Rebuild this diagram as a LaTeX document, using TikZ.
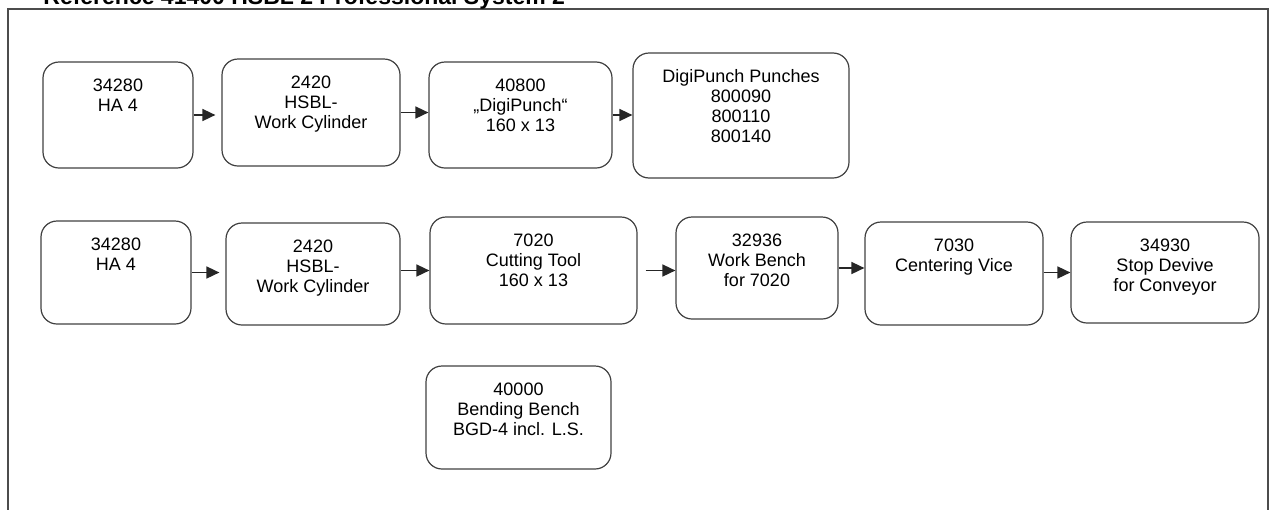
\documentclass[tikz,border=0pt]{standalone}
\usepackage{fontspec}
\setmainfont{Liberation Sans}
\usetikzlibrary{arrows.meta}

\definecolor{edgegray}{gray}{0.25}
\tikzset{
  unit/.style={draw=edgegray, line width=0.6pt, rounded corners=8pt, inner sep=0pt},
  unittext/.style={anchor=north, inner sep=0pt, yshift=-8.5pt, align=center,
    font=\fontsize{9}{10}\selectfont},
  flow/.style={-{Triangle[length=6.5pt,width=6pt]}, line width=0.8pt, black!85},
}

\begin{document}
\begin{tikzpicture}[x=0.5pt,y=-0.5pt]
          \useasboundingbox (0,0) rectangle (1272,509);
          % frame and title
          \draw[line width=1pt,black!70] (8,530) -- (8,9) -- (1268,9) -- (1268,530);
          \node[anchor=base west,inner sep=0pt,font=\fontsize{11.5}{14}\selectfont\bfseries] (title) at (43,4) {Reference 41400 HSBL 2 Professional System 2};
          % first line
          \node[unit,minimum width=75pt,minimum height=53pt,label={[unittext]north:34280\\HA 4}] (ha1) at (118,115) {};
          \node[unit,minimum width=89pt,minimum height=53.5pt,label={[unittext]north:2420\\HSBL-\\Work Cylinder}] (cyl1) at (311,112.5) {};
          \node[unit,minimum width=91.5pt,minimum height=53pt,label={[unittext]north:40800\\„DigiPunch“\\160 x 13}] (punch) at (520.5,115) {};
          \node[unit,minimum width=108pt,minimum height=62.5pt,label={[unittext]north:DigiPunch Punches\\800090\\800110\\800140}] (punches) at (741,115.5) {};
          % second line
          \node[unit,minimum width=75pt,minimum height=51.5pt,label={[unittext]north:34280\\HA 4}] (ha2) at (116,272.5) {};
          \node[unit,minimum width=87pt,minimum height=51pt,label={[unittext]north:2420\\HSBL-\\Work Cylinder}] (cyl2) at (313,274) {};
          \node[unit,minimum width=103.5pt,minimum height=53.5pt,label={[unittext]north:7020\\Cutting Tool\\160 x 13}] (cutter) at (533.5,270.5) {};
          \node[unit,minimum width=81pt,minimum height=51pt,label={[unittext]north:32936\\Work Bench\\for 7020}] (bench) at (757,268) {};
          \node[unit,minimum width=89pt,minimum height=51.5pt,label={[unittext]north:7030\\Centering Vice}] (vice) at (954,273.5) {};
          \node[unit,minimum width=94pt,minimum height=50.5pt,label={[unittext]north:34930\\Stop Devive\\for Conveyor}] (stop) at (1165,272.5) {};
          % bending bench
          \node[unit,minimum width=92.5pt,minimum height=51.5pt,label={[unittext]north:40000\\Bending Bench\\BGD-4 incl. L.S.}] (bending) at (518.5,417.5) {};
          % arrows
          \draw[flow,shorten >=3pt] (ha1.east) -- (ha1.east -| cyl1.west);
          \draw[flow] (cyl1.east) -- (cyl1.east -| punch.west);
          \draw[flow] (punch.east) -- (punch.east -| punches.west);
          \draw[flow,shorten >=3pt] (ha2.east) -- (ha2.east -| cyl2.west);
          \draw[flow] (cyl2.east |- cutter.west) -- (cutter.west);
          \draw[flow,shorten <=4pt] (cutter.east) -- (cutter.east -| bench.west);
          \draw[flow] (bench.east) -- (bench.east -| vice.west);
          \draw[flow] (vice.east |- stop.west) -- (stop.west);
        \end{tikzpicture}
\end{document}
